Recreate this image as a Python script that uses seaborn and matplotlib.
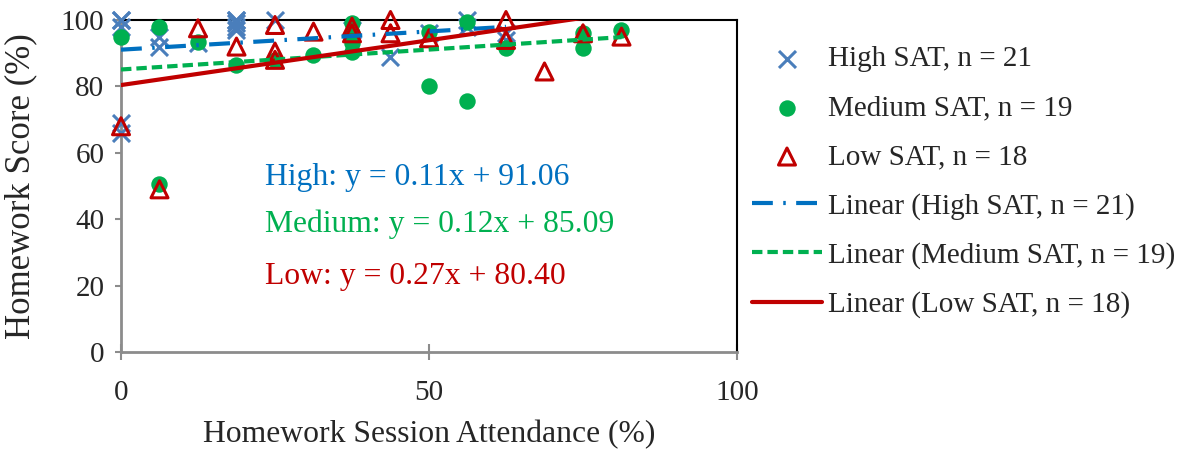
import numpy as np
import pandas as pd
import matplotlib
matplotlib.use("Agg")
import matplotlib.pyplot as plt
import seaborn as sns

# attendance (%) / homework score (%) per SAT group
high_x = [0, 0, 0, 0, 0, 6.25, 6.25, 12.5, 18.75, 18.75, 18.75, 18.75, 18.75,
          25, 37.5, 43.75, 50, 56.25, 56.25, 62.5, 62.5]
high_y = [100, 100, 98, 69, 66, 95, 92, 93, 100, 100, 99, 98, 97,
          100, 97, 89, 96, 98, 100, 96, 94]

med_x = [0, 6.25, 6.25, 12.5, 18.75, 25, 31.25, 37.5, 37.5, 37.5, 37.5,
         50, 50, 56.25, 56.25, 62.5, 75, 75, 81.25]
med_y = [95, 98, 50.5, 93.5, 86.5, 88, 89.5, 99, 96, 93, 90.5,
         96.5, 80, 99.5, 75.5, 91.5, 96, 91.5, 97]

low_x = [0, 6.25, 12.5, 18.75, 25, 25, 25, 31.25, 37.5, 37.5,
         43.75, 43.75, 50, 62.5, 62.5, 68.75, 75, 81.25]
low_y = [68, 49, 97.5, 92, 98.5, 90.5, 88, 96.5, 98, 96,
         100, 96, 94.5, 100, 94, 84.5, 96, 95]

groups = ["High SAT, n = 21", "Medium SAT, n = 19", "Low SAT, n = 18"]
trend_labels = ["Linear (High SAT, n = 21)", "Linear (Medium SAT, n = 19)",
                "Linear (Low SAT, n = 18)"]
eq_labels = ["High: y = 0.11x + 91.06", "Medium: y = 0.12x + 85.09",
             "Low: y = 0.27x + 80.40"]
slopes = [0.11, 0.12, 0.27]
intercepts = [91.06, 85.09, 80.40]

sns.set_theme(style="white")
plt.rcParams["font.family"] = ["Liberation Serif", "DejaVu Serif"]

FS = 21
BLUE_M = "#4A7EBB"
BLUE = "#0070C0"
GREEN = "#00B050"
RED = "#C00000"

fig = plt.figure(figsize=(11.85, 4.49), dpi=100)
ax = fig.add_axes([121 / 1185, 1 - 352 / 449, (737 - 121) / 1185, (352 - 20) / 449])

df_high = pd.DataFrame({"x": high_x, "y": high_y})
df_med = pd.DataFrame({"x": med_x, "y": med_y})
df_low = pd.DataFrame({"x": low_x, "y": low_y})

sns.scatterplot(data=df_high, x="x", y="y", ax=ax, marker="x", s=150,
                color=BLUE_M, linewidth=2.2, label=groups[0], clip_on=False, zorder=3)
sns.scatterplot(data=df_med, x="x", y="y", ax=ax, marker="o", s=140,
                color=GREEN, edgecolor=GREEN, linewidth=0, label=groups[1],
                clip_on=False, zorder=4)
sns.scatterplot(data=df_low, x="x", y="y", ax=ax, marker="^", s=150,
                facecolors="none", edgecolor=RED, linewidth=2.2, label=groups[2],
                clip_on=False, zorder=5)

# Excel-style trendlines over each group's x range (clipped to the plot area)
styles = [(BLUE, (0, (5, 2.5, 0.6, 2.5))), (GREEN, (0, (2.5, 1.2))), (RED, "-")]
for (d, (c, ls)), lab, m, b in zip(zip([df_high, df_med, df_low], styles),
                                    trend_labels, slopes, intercepts):
    xs = np.array([d["x"].min(), d["x"].max()])
    ax.plot(xs, m * xs + b, color=c, linestyle=ls, linewidth=3, label=lab, zorder=6)

for txt, c, yv in zip(eq_labels, [BLUE, GREEN, RED], [52.6, 38.4, 22.6]):
    ax.text(23.4, yv, txt, color=c, fontsize=22.8, ha="left", va="center")

ax.set_xlim(0, 100)
ax.set_ylim(0, 100)
ax.set_xticks([0, 50, 100])
ax.set_yticks(range(0, 101, 20))
ax.tick_params(axis="y", direction="out", length=4, width=1.5, color="#8c8c8c",
               labelsize=FS, pad=8, left=True)
ax.tick_params(axis="x", direction="inout", length=12, width=1.5, color="#8c8c8c",
               labelsize=FS, pad=14, bottom=True)

for side in ["left", "bottom"]:
    ax.spines[side].set_color("#8c8c8c")
    ax.spines[side].set_linewidth(2)
for side in ["top", "right"]:
    ax.spines[side].set_color("black")
    ax.spines[side].set_linewidth(1.5)

ax.set_xlabel("Homework Session Attendance (%)", fontsize=22.8, labelpad=10)
ax.set_ylabel("Homework Score (%)", fontsize=25, va="center")
ax.yaxis.set_label_coords(-0.163, 0.5)

handles, labels = ax.get_legend_handles_labels()
if ax.legend_:
    ax.legend_.remove()
fig.legend(handles, labels, loc="upper left", bbox_to_anchor=(752 / 1185, 1 - 46 / 449),
           frameon=False, fontsize=FS, handlelength=2.4, handletextpad=0.2,
           labelspacing=0.77, borderpad=0, borderaxespad=0)

fig.savefig("out.png", dpi=100)
plt.close(fig)
